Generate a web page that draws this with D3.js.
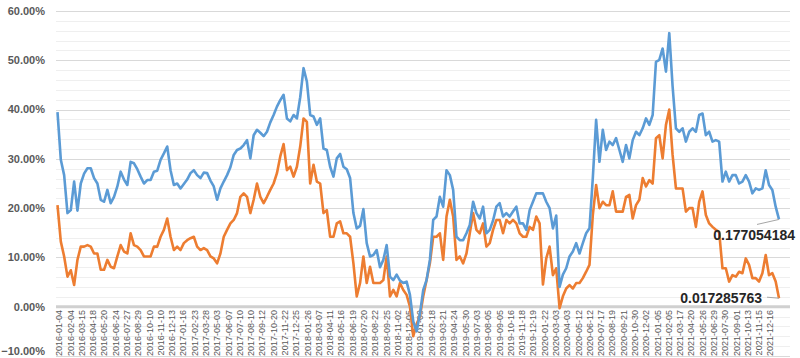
<!DOCTYPE html>
<html><head><meta charset="utf-8">
<script src="https://cdn.jsdelivr.net/npm/d3@7"></script>
<style>body{margin:0;background:#fff} svg{display:block}</style>
</head><body><svg id="chart" width="800" height="358"></svg>
<script>
// ---------- data ----------
const tickLabels = [
"2016-01-04","2016-02-04","2016-03-15","2016-04-18","2016-05-20","2016-06-24","2016-07-27","2016-08-29","2016-10-10","2016-11-10","2016-12-13",
"2017-01-16","2017-02-23","2017-03-28","2017-05-03","2017-06-07","2017-07-10","2017-08-10","2017-09-12","2017-10-20","2017-11-22","2017-12-25",
"2018-01-26","2018-03-07","2018-04-11","2018-05-16","2018-06-19","2018-07-20","2018-08-22","2018-09-25","2018-11-02","2018-12-05",
"2019-01-09","2019-02-18","2019-03-21","2019-04-24","2019-05-30","2019-07-03","2019-08-05","2019-09-05","2019-10-16","2019-11-18","2019-12-19",
"2020-01-22","2020-03-03","2020-04-03","2020-05-12","2020-06-12","2020-07-17","2020-08-19","2020-09-21","2020-10-30","2020-12-02",
"2021-01-05","2021-02-05","2021-03-17","2021-04-20","2021-05-26","2021-06-29","2021-07-30","2021-09-01","2021-10-13","2021-11-15","2021-12-16"];
const categoryCount = 1471;   // trading days on the category axis
const tickEvery = 23;         // one label every 23 categories

// series values in percent, sampled evenly along the category axis
const seriesBlue = [
39.5,29.8,26.7,19.0,19.6,25.4,19.5,25.0,27.0,28.1,28.1,26.1,25.0,21.7,21.3,23.7,21.0,22.3,24.4,27.4,25.8,24.7,29.4,29.1,27.9,26.4,25.0,25.7,25.7,27.4,27.6,29.8,31.1,32.5,27.7,24.7,25.0,24.0,24.9,25.8,27.1,27.7,26.7,26.1,27.2,27.1,25.6,24.4,21.7,24.0,25.4,26.7,28.3,30.8,31.8,32.1,32.8,33.8,30.1,34.8,35.9,35.3,34.6,35.5,37.4,38.9,40.6,41.9,43.0,38.2,37.6,38.9,38.2,42.5,
48.4,45.7,38.9,38.6,36.9,38.2,32.1,31.8,28.4,26.4,30.1,31.0,28.4,27.9,26.1,19.0,15.9,16.4,19.8,12.9,10.2,10.5,11.5,8.0,9.5,12.5,6.1,5.4,6.5,5.3,4.8,5.1,2.4,-3.0,-5.0,-1.5,3.4,5.4,9.5,17.6,18.3,22.3,20.3,27.7,26.7,23.7,14.2,13.5,13.5,14.9,16.6,21.3,19.0,17.9,20.3,14.9,15.6,17.5,20.3,21.0,18.3,19.0,18.3,19.3,20.3,16.9,16.9,15.6,19.6,21.3,23.0,23.0,
23.0,21.3,20.0,15.9,18.5,4.0,6.5,7.8,10.2,11.2,12.9,10.8,12.9,14.9,15.9,26.1,37.9,29.4,35.9,31.8,33.5,32.8,34.2,31.8,29.4,32.8,30.1,33.8,35.5,34.8,36.2,38.2,36.9,38.9,49.7,50.1,52.4,47.7,55.5,44.7,36.2,35.5,36.2,33.5,35.5,36.2,35.5,38.9,39.2,34.8,35.5,33.5,33.8,33.5,25.4,27.4,25.4,26.7,26.7,25.0,25.4,26.7,25.4,23.0,24.0,23.7,24.0,27.7,24.7,23.7,20.3,17.7054184];
const seriesOrange = [
20.6,13.2,10.2,6.1,7.4,4.4,9.5,12.2,12.2,12.5,12.2,10.8,10.8,7.5,7.5,9.5,8.1,7.8,10.2,12.5,11.2,10.8,14.9,12.5,12.2,11.5,10.2,10.2,10.2,12.2,12.2,14.2,15.6,17.9,14.2,11.5,12.2,11.5,12.9,13.5,13.9,14.2,12.2,11.5,11.9,11.5,10.2,9.8,8.8,10.8,14.2,15.6,16.9,17.6,19.0,22.3,23.0,22.3,19.0,21.7,25.0,22.3,21.0,22.3,23.7,25.0,27.1,30.5,33.0,27.7,28.4,26.4,28.4,32.5,
38.2,37.5,25.0,28.8,25.4,25.0,19.0,19.6,14.2,14.2,16.9,17.3,14.9,14.9,14.2,8.8,2.1,4.8,10.2,4.8,8.1,4.8,4.8,4.8,5.4,10.2,2.1,3.4,2.1,4.8,3.4,2.4,0.0,-6.0,-3.5,-2.0,2.1,5.4,8.8,14.2,14.2,14.9,9.5,18.3,21.7,18.3,9.5,10.2,8.8,10.8,14.9,19.0,15.6,14.9,16.9,12.2,12.9,15.6,17.6,17.6,14.9,17.6,16.9,17.6,16.9,14.9,14.2,14.2,16.2,15.6,18.3,16.9,
4.5,9.8,12.2,6.4,7.8,-0.3,2.1,3.7,4.4,3.7,4.8,4.8,5.8,7.1,8.5,18.6,24.7,20.0,21.3,20.6,20.6,23.4,19.3,19.3,19.3,22.3,22.7,17.9,20.6,21.7,26.1,24.4,25.7,25.0,34.2,34.8,30.1,36.9,40.0,30.8,24.0,24.0,24.0,19.3,20.0,20.0,16.2,21.3,23.4,18.6,16.9,16.2,15.6,15.2,7.8,7.8,5.1,6.4,6.1,7.1,6.8,9.8,8.5,5.8,5.8,5.1,6.8,10.5,6.4,6.8,5.1,1.7285763];
const endLabels = ["0.177054184","0.017285763"];
const yTickValues = [-10,0,10,20,30,40,50,60];

// ---------- chart ----------
const svg = d3.select("#chart");
const font = "'Liberation Sans', Arial, sans-serif";
const plotLeft = 56, plotRight = 790;
const x = d3.scaleLinear().domain([0, categoryCount - 1]).range([57.5, 779]);
const y = d3.scaleLinear().domain([-10, 60]).range([356, 11]);

// minor gridlines every 2%
const minor = d3.range(-10, 61, 2).filter(v => v % 10 !== 0);
svg.append("g").selectAll("line").data(minor).join("line")
  .attr("x1", plotLeft).attr("x2", plotRight)
  .attr("y1", d => Math.round(y(d)) + 0.5).attr("y2", d => Math.round(y(d)) + 0.5)
  .attr("stroke", "#efefef").attr("stroke-width", 1);
// major gridlines
svg.append("g").selectAll("line").data(yTickValues.filter(v => v !== 0)).join("line")
  .attr("x1", plotLeft).attr("x2", plotRight)
  .attr("y1", d => Math.round(y(d)) + 0.5).attr("y2", d => Math.round(y(d)) + 0.5)
  .attr("stroke", "#d9d9d9").attr("stroke-width", 1);
// category axis line at 0
svg.append("line").attr("x1", plotLeft).attr("x2", plotRight)
  .attr("y1", y(0)).attr("y2", y(0))
  .attr("stroke", "#d0d0d0").attr("stroke-width", 3);

// y labels (lowest one nudged up so it stays inside the picture)
svg.append("g").selectAll("text").data(yTickValues).join("text")
  .attr("x", 45).attr("y", d => Math.min(y(d), 351)).attr("dy", "0.35em")
  .attr("text-anchor", "end")
  .attr("font-family", font).attr("font-size", 11).attr("font-weight", "bold")
  .attr("fill", "#595959")
  .text(d => d3.format(".2f")(d) + "%");

// x labels
svg.append("g").selectAll("text").data(tickLabels).join("text")
  .attr("transform", (d, i) => `translate(${x(i * tickEvery) + 1.6},310) rotate(-90)`)
  .attr("dy", "0.35em").attr("text-anchor", "end")
  .attr("font-family", font).attr("font-size", 9).attr("fill", "#595959")
  .text(d => d);

// lines
function pts(arr) {
  const n = arr.length;
  return arr.map((v, j) => [x(j * (categoryCount - 1) / (n - 1)), y(v)]);
}
const line = d3.line().curve(d3.curveLinear);
svg.append("path").attr("d", line(pts(seriesOrange)))
  .attr("fill", "none").attr("stroke", "#ed7d31").attr("stroke-width", 2.6)
  .attr("stroke-linejoin", "round");
svg.append("path").attr("d", line(pts(seriesBlue)))
  .attr("fill", "none").attr("stroke", "#5b9bd5").attr("stroke-width", 2.6)
  .attr("stroke-linejoin", "round");

// end data labels with leader lines
const bEnd = pts(seriesBlue).slice(-1)[0];
const oEnd = pts(seriesOrange).slice(-1)[0];
svg.append("line").attr("x1", bEnd[0]).attr("y1", bEnd[1]).attr("x2", bEnd[0] - 22).attr("y2", bEnd[1] + 5)
  .attr("stroke", "#a6a6a6").attr("stroke-width", 1);
svg.append("line").attr("x1", oEnd[0]).attr("y1", oEnd[1]).attr("x2", oEnd[0] - 12).attr("y2", oEnd[1] - 1)
  .attr("stroke", "#a6a6a6").attr("stroke-width", 1);
svg.append("text").attr("x", bEnd[0] + 16).attr("y", bEnd[1] + 16).attr("dy", "0.35em")
  .attr("text-anchor", "end").attr("font-family", font).attr("font-size", 14)
  .attr("font-weight", "bold").attr("fill", "#262626").text(endLabels[0]);
svg.append("text").attr("x", oEnd[0] - 17).attr("y", oEnd[1]).attr("dy", "0.35em")
  .attr("text-anchor", "end").attr("font-family", font).attr("font-size", 14)
  .attr("font-weight", "bold").attr("fill", "#262626").text(endLabels[1]);
</script>
</body></html>
